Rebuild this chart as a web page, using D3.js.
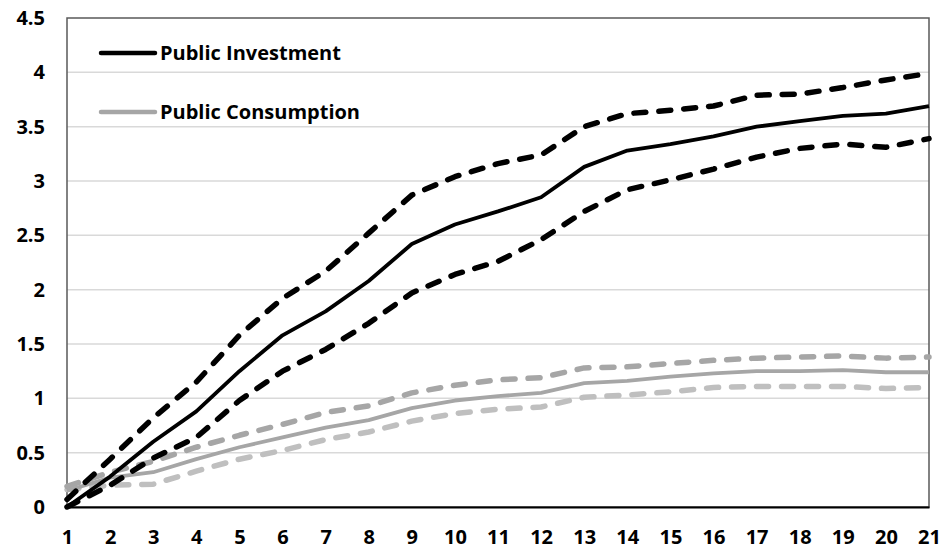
<!DOCTYPE html>
<html>
<head>
<meta charset="utf-8">
<script src="https://cdn.jsdelivr.net/npm/d3@7"></script>
<style>
  html, body { margin: 0; padding: 0; background: #fff; }
  svg { display: block; }
  text { font-family: "Open Sans", Lato, sans-serif; font-weight: bold; fill: #000; }
</style>
</head>
<body>
<svg id="chart" width="942" height="549"></svg>
<script>
// ---- data ----
const categories = [1,2,3,4,5,6,7,8,9,10,11,12,13,14,15,16,17,18,19,20,21];
const yTicks = [0, 0.5, 1, 1.5, 2, 2.5, 3, 3.5, 4, 4.5];

const investment      = [0, 0.28, 0.6, 0.88, 1.25, 1.58, 1.8, 2.08, 2.42, 2.6, 2.72, 2.85, 3.13, 3.28, 3.34, 3.41, 3.5, 3.55, 3.6, 3.62, 3.69];
const investmentUpper = [0.07, 0.44, 0.82, 1.15, 1.58, 1.92, 2.17, 2.52, 2.87, 3.04, 3.16, 3.24, 3.5, 3.62, 3.65, 3.69, 3.79, 3.8, 3.86, 3.93, 3.99];
const investmentLower = [0, 0.2, 0.45, 0.64, 0.98, 1.25, 1.45, 1.69, 1.97, 2.14, 2.26, 2.46, 2.72, 2.92, 3.01, 3.11, 3.22, 3.3, 3.34, 3.31, 3.39];

const consumption      = [0.15, 0.27, 0.32, 0.44, 0.55, 0.64, 0.73, 0.8, 0.91, 0.98, 1.02, 1.05, 1.14, 1.16, 1.2, 1.23, 1.25, 1.25, 1.26, 1.24, 1.24];
const consumptionUpper = [0.19, 0.32, 0.42, 0.55, 0.66, 0.76, 0.87, 0.93, 1.05, 1.12, 1.17, 1.19, 1.28, 1.29, 1.32, 1.35, 1.37, 1.38, 1.39, 1.37, 1.38];
const consumptionLower = [0.16, 0.2, 0.21, 0.33, 0.44, 0.52, 0.62, 0.69, 0.79, 0.86, 0.9, 0.92, 1.01, 1.03, 1.06, 1.1, 1.11, 1.11, 1.11, 1.09, 1.1];

const legendLabels = ["Public Investment", "Public Consumption"];

// ---- layout ----
const svg = d3.select("#chart");
const pLeft = 67, pRight = 929, pTop = 18, pBottom = 507;

const x = d3.scalePoint().domain(categories).range([pLeft, pRight]).padding(0);
const y = d3.scaleLinear().domain([0, 4.5]).range([pBottom, pTop]);

// gridlines
svg.append("g")
  .selectAll("line")
  .data(yTicks.filter(d => d > 0 && d < 4.5))
  .join("line")
  .attr("x1", pLeft).attr("x2", pRight)
  .attr("y1", d => y(d)).attr("y2", d => y(d))
  .attr("stroke", "#d9d9d9").attr("stroke-width", 1.5);

// frame
svg.append("rect")
  .attr("x", pLeft).attr("y", pTop)
  .attr("width", pRight - pLeft).attr("height", pBottom - pTop)
  .attr("fill", "none").attr("stroke", "#595959").attr("stroke-width", 1.5);

// axes
const yAxis = svg.append("g")
  .attr("transform", `translate(${pLeft},0)`)
  .call(d3.axisLeft(y).tickValues(yTicks).tickFormat(d => String(d)).tickSize(0).tickPadding(22));
yAxis.select(".domain").remove();
yAxis.selectAll("text").style("font-size", "20px").attr("fill", "#000");

const xAxis = svg.append("g")
  .attr("transform", `translate(0,${pBottom})`)
  .call(d3.axisBottom(x).tickSize(0).tickPadding(23));
xAxis.select(".domain").attr("stroke", "#000").attr("stroke-width", 2);
xAxis.selectAll("text").style("font-size", "20px").attr("fill", "#000");

// lines
const line = d3.line().x((d, i) => x(categories[i])).y(d => y(d));

const series = [
  { values: consumptionLower, color: "#bfbfbf", dashed: true },
  { values: consumptionUpper, color: "#a6a6a6", dashed: true },
  { values: consumption,      color: "#a6a6a6", dashed: false },
  { values: investmentLower,  color: "#000000", dashed: true },
  { values: investmentUpper,  color: "#000000", dashed: true },
  { values: investment,       color: "#000000", dashed: false }
];

svg.append("g")
  .selectAll("path")
  .data(series)
  .join("path")
  .attr("d", d => line(d.values))
  .attr("fill", "none")
  .attr("stroke", d => d.color)
  .attr("stroke-width", d => d.dashed ? 5.5 : 3.8)
  .attr("stroke-linecap", d => d.dashed ? "round" : "butt")
  .attr("stroke-linejoin", "round")
  .attr("stroke-dasharray", d => d.dashed ? "12,13" : null);

// legend
const legendColors = ["#000000", "#a6a6a6"];
const lg = svg.append("g");
legendLabels.forEach((label, i) => {
  const ly = 53 + i * 59;
  lg.append("line")
    .attr("x1", 101).attr("x2", 155)
    .attr("y1", ly).attr("y2", ly)
    .attr("stroke", legendColors[i]).attr("stroke-width", 4.5)
    .attr("stroke-linecap", "round");
  lg.append("text")
    .attr("x", 160).attr("y", ly)
    .attr("dy", "0.35em")
    .style("font-size", "20px")
    .text(label);
});
</script>
</body>
</html>
